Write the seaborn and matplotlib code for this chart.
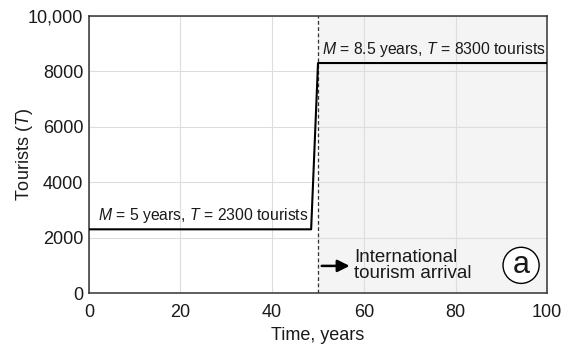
import matplotlib
matplotlib.use("Agg")
import matplotlib.pyplot as plt
import seaborn as sns
import pandas as pd

# step in tourist numbers when international arrivals start
years = [0, 48.5, 50, 100]
tourists = [2300, 2300, 8300, 8300]
arrival_year = 50

sns.set_style("whitegrid")
plt.rcParams['font.family'] = ['Liberation Sans', 'DejaVu Sans']
plt.rcParams['mathtext.fontset'] = 'custom'
plt.rcParams['mathtext.rm'] = 'Liberation Sans'
plt.rcParams['mathtext.it'] = 'Liberation Sans:italic'

df = pd.DataFrame({"year": years, "tourists": tourists})

fig = plt.figure(figsize=(5.73, 3.46), dpi=100)
ax = fig.add_axes([0.155, 0.153, 0.80, 0.801])

ax.axvspan(arrival_year, 100, color="#f4f4f4", zorder=0)
sns.lineplot(data=df, x="year", y="tourists", color="black", lw=1.5,
             estimator=None, sort=False, ax=ax, zorder=3)
ax.axvline(arrival_year, color="#333333", ls=(0, (3, 2)), lw=0.9, zorder=2)

ax.set_xlim(0, 100)
ax.set_ylim(0, 10000)
ax.set_xticks([0, 20, 40, 60, 80, 100])
ax.set_yticks([0, 2000, 4000, 6000, 8000, 10000])
ax.set_yticklabels(["0", "2000", "4000", "6000", "8000", "10,000"])
ax.tick_params(labelsize=13, length=0, colors="#1a1a1a")
ax.tick_params(axis="x", pad=8)
ax.tick_params(axis="y", pad=4)
ax.grid(color="#dddddd", lw=0.8)
for s in ax.spines.values():
    s.set_color("#333333")
    s.set_linewidth(1.1)

ax.set_xlabel("Time, years", fontsize=13, labelpad=4, color="#1a1a1a")
ax.set_ylabel("Tourists ($T$)", fontsize=13, color="#1a1a1a")
ax.yaxis.set_label_coords(-0.117, 0.5)

ax.text(2, 2450, "$M$ = 5 years, $T$ = 2300 tourists", fontsize=11.3, va="bottom",
        color="#1a1a1a")
ax.text(50.8, 8450, "$M$ = 8.5 years, $T$ = 8300 tourists", fontsize=11.3, va="bottom",
        color="#1a1a1a")

ax.annotate("", xy=(57.5, 980), xytext=(50.2, 980),
            arrowprops=dict(arrowstyle="-|>", color="black", lw=1.8, mutation_scale=18))
ax.text(57.8, 1000, "International\ntourism arrival", fontsize=13.5, va="center",
        linespacing=0.9, color="#1a1a1a")
ax.text(94.3, 1000, "a", fontsize=22, ha="center", va="center", color="#1a1a1a",
        bbox=dict(boxstyle="circle,pad=0.1", fc="white", ec="black", lw=1.0))

fig.savefig("out.png", dpi=100)
